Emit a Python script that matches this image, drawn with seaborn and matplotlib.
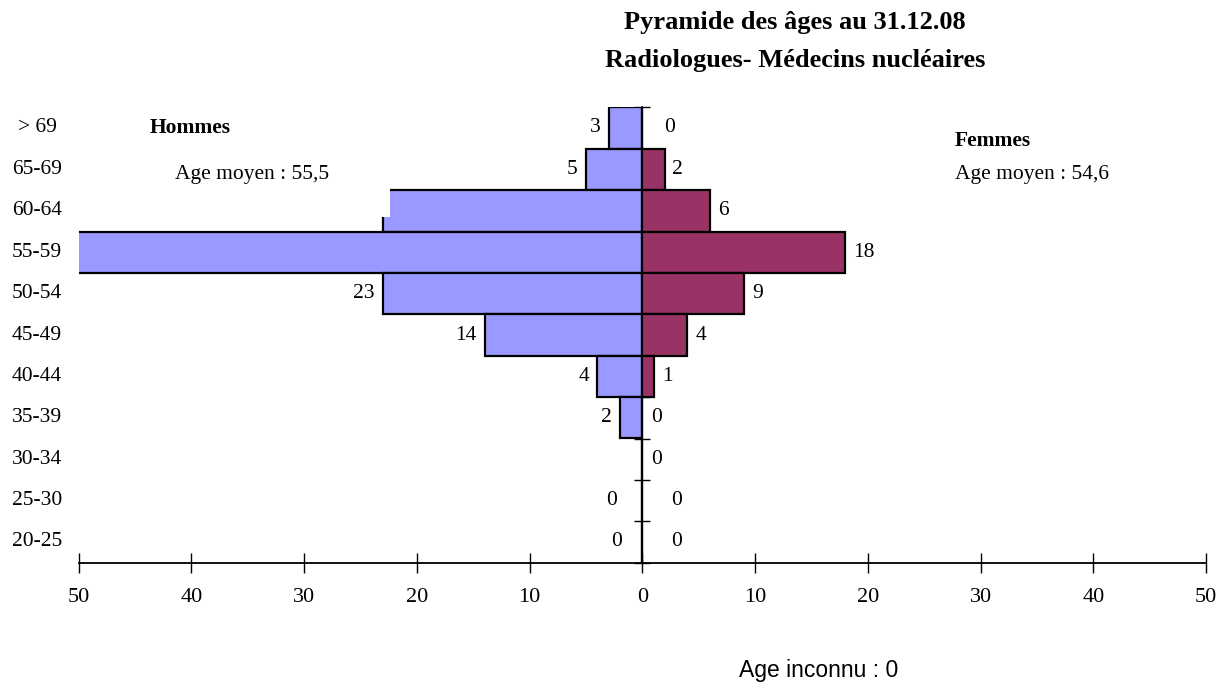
import matplotlib
matplotlib.use("Agg")
import matplotlib.pyplot as plt
import seaborn as sns
import pandas as pd
import numpy as np
from matplotlib.patches import Rectangle

# ---- data ----
ages = ["> 69", "65-69", "60-64", "55-59", "50-54", "45-49", "40-44",
        "35-39", "30-34", "25-30", "20-25"]
hommes = [3, 5, 23, 52, 23, 14, 4, 2, 0, 0, 0]
femmes = [0, 2, 6, 18, 9, 4, 1, 0, 0, 0, 0]
# which value labels are displayed in the original
show_h = [True, True, False, False, True, True, True, True, False, True, True]
show_f = [True] * 11
x_ticks = [-50, -40, -30, -20, -10, 0, 10, 20, 30, 40, 50]

# label offsets (points) — styling only
off_h = [-6, -6, -6, -6, -6, -6, -6, -6, 0, -18, -15]
off_f = [16, 5, 6, 6, 6, 6, 6, 6, 6, 21, 21]

sns.set_theme(style="white")
plt.rcParams['font.family'] = ['Liberation Serif', 'DejaVu Serif']
plt.rcParams['text.color'] = 'black'
plt.rcParams['xtick.color'] = 'black'
plt.rcParams['ytick.color'] = 'black'
plt.rcParams['axes.labelcolor'] = 'black'

df = pd.DataFrame({
    "age": ages * 2,
    "value": [-v for v in hommes] + femmes,
    "sexe": ["Hommes"] * len(ages) + ["Femmes"] * len(ages),
})

fig = plt.figure(figsize=(12.2, 6.82), dpi=100)
ax = fig.add_axes([78.7 / 1220, (682 - 562.7) / 682, 1127.3 / 1220, 455.4 / 682])

sns.barplot(data=df, x="value", y="age", hue="sexe", order=ages,
            hue_order=["Hommes", "Femmes"],
            palette={"Hommes": "#9999FF", "Femmes": "#993366"},
            saturation=1, dodge=False, width=1.0, edgecolor="black",
            linewidth=1.6, legend=False, ax=ax)

ax.set_xlim(-50, 50)
ax.set_ylim(len(ages) - 0.5, -0.5)

# spines: vertical axis at x=0, horizontal axis at bottom
for s in ["top", "right"]:
    ax.spines[s].set_visible(False)
ax.spines["left"].set_position(("data", 0))
ax.spines["left"].set_color("black")
ax.spines["left"].set_linewidth(1.2)
ax.spines["left"].set_zorder(0.5)
ax.spines["bottom"].set_color("black")
ax.spines["bottom"].set_linewidth(1.3)

ax.set_yticks(np.arange(len(ages)))
ax.set_yticklabels([])
ax.tick_params(axis="y", which="major", length=0, left=False)
ax.set_yticks(np.arange(len(ages) + 1) - 0.5, minor=True)
ax.tick_params(axis="y", which="minor", direction="inout", length=11,
               width=1, color="black", left=True)

ax.set_xticks(x_ticks)
ax.set_xticklabels([str(abs(t)) for t in x_ticks], fontsize=16,
                   color="black")
ax.tick_params(axis="x", direction="inout", length=14, width=1,
               color="black", bottom=True, pad=11)
ax.set_xlabel("")
ax.set_ylabel("")
ax.grid(False)

# category labels at far left
for i, a in enumerate(ages):
    ax.text(-0.037, i, a, transform=ax.get_yaxis_transform(),
            ha="center", va="center", fontsize=15.5, color="black")

# value labels
for i in range(len(ages)):
    if show_h[i]:
        ax.annotate(str(hommes[i]), (-hommes[i], i), xytext=(off_h[i], 0),
                    textcoords="offset points", ha="right", va="center",
                    fontsize=15.5, color="black")
    if show_f[i]:
        ax.annotate(str(femmes[i]), (femmes[i], i), xytext=(off_f[i], 0),
                    textcoords="offset points", ha="left", va="center",
                    fontsize=15.5, color="black")

# small white mask present in the original over the 60-64 bar corner
ax.add_patch(Rectangle((-25, 1.45), 2.6, 0.71, facecolor="white",
                       edgecolor="none", zorder=5))

# annotations
fig.text(150 / 1220, 1 - 128 / 682, "Hommes", fontsize=15.5,
         fontweight="bold", ha="left", va="center", color="black")
fig.text(175 / 1220, 1 - 174 / 682, "Age moyen : 55,5", fontsize=15.5,
         ha="left", va="center", color="black")
fig.text(955 / 1220, 1 - 141 / 682, "Femmes", fontsize=15.5,
         fontweight="bold", ha="left", va="center", color="black")
fig.text(955 / 1220, 1 - 174 / 682, "Age moyen : 54,6", fontsize=15.5,
         ha="left", va="center", color="black")

fig.text(795 / 1220, 1 - 22 / 682, "Pyramide des âges au 31.12.08",
         fontsize=19, fontweight="bold", ha="center", va="center",
         color="black")
fig.text(795 / 1220, 1 - 60 / 682, "Radiologues- Médecins nucléaires",
         fontsize=19, fontweight="bold", ha="center", va="center",
         color="black")

fig.text(819 / 1220, 1 - 670 / 682, "Age inconnu : 0", fontsize=16.5,
         ha="center", va="center", color="black",
         family=["Liberation Sans", "DejaVu Sans"])

fig.savefig("out.png", dpi=100)
